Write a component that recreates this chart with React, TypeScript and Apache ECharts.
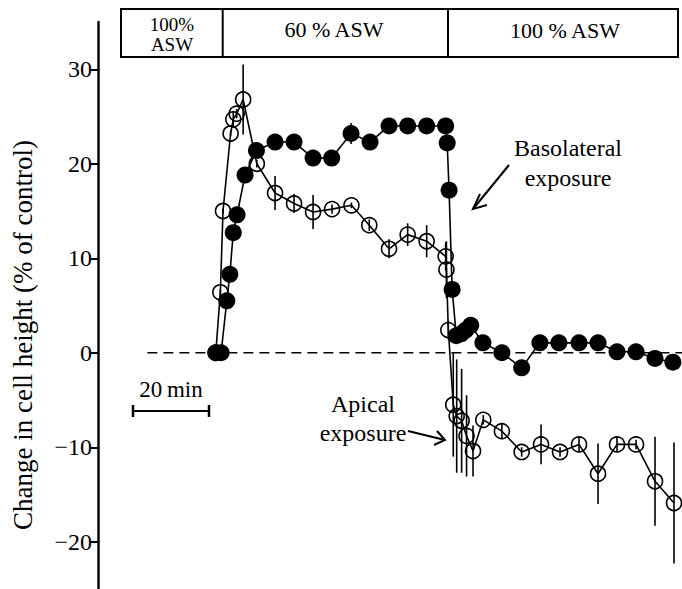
import React, { useEffect, useRef } from 'react';
import * as echarts from 'echarts';

// ---- data (time in minutes from the switch to 60 % ASW, value in % of control)
const yTicks = [-20, -10, 0, 10, 20, 30];

const basoTime = [-1.8, -0.4, 1.1, 1.9, 2.8, 3.8, 5.9, 8.9, 13.8, 18.8, 23.8, 28.7, 33.8, 38.8, 43.8, 48.7, 53.7, 58.7, 59.1, 59.6, 60.4, 61.5, 62.8, 64.0, 65.3, 68.5, 73.5, 78.7, 83.5, 88.5, 93.8, 98.8, 103.8, 108.8, 113.8, 118.5];
const basoValue = [0, 0, 5.5, 8.3, 12.7, 14.6, 18.8, 21.4, 22.3, 22.3, 20.6, 20.6, 23.2, 22.3, 24.0, 24.0, 24.0, 24.0, 22.2, 17.2, 6.7, 1.8, 2.0, 2.4, 2.9, 1.05, 0, -1.6, 1.05, 1.05, 1.05, 1.05, 0.1, 0.1, -0.6, -1.0];
const basoErr = [0, 0, 0, 0, 0, 0, 0.5, 0, 0, 0, 0, 0, 1.1, 0, 0, 0, 0, 0, 0, 0, 0, 0.7, 0.7, 0.7, 0.7, 0, 0, 0, 0, 0, 0, 0, 0, 0, 0, 0];

const apicalTime = [-1.8, -0.6, 0.1, 2.1, 2.8, 3.7, 5.4, 9.0, 13.8, 18.8, 23.8, 28.8, 33.9, 38.6, 43.8, 48.7, 53.7, 58.7, 58.9, 59.4, 60.7, 61.6, 62.9, 64.2, 65.9, 68.6, 73.5, 78.7, 83.8, 88.8, 93.8, 98.8, 103.8, 108.8, 113.8, 118.8];
const apicalValue = [0, 6.4, 15.0, 23.2, 24.7, 25.3, 26.8, 20.0, 16.9, 15.8, 14.9, 15.2, 15.6, 13.5, 11.0, 12.5, 11.8, 10.2, 8.8, 2.4, -5.5, -6.7, -7.2, -8.8, -10.4, -7.1, -8.3, -10.5, -9.7, -10.5, -9.7, -12.8, -9.7, -9.7, -13.6, -15.9];
const apicalErr = [0, 0.3, 0.3, 0.3, 0.9, 0.5, 3.7, 0.4, 1.8, 1.0, 1.8, 0.5, 0.3, 0.6, 1.0, 1.2, 1.7, 1.5, 3.0, 1.0, 5.5, 6.0, 5.5, 4.3, 2.7, 0.5, 0.8, 0.5, 2.1, 0.5, 0.8, 3.2, 0.8, 0.5, 4.7, 6.4];

const zeroLineStart = -19.8;
const xMin = -32.8;
const xMax = 120.9;

const FONT = 'Liberation Serif, Times New Roman, DejaVu Serif, serif';

function pairs(t: number[], v: number[]) {
  return t.map((x, i) => [x, v[i]]);
}
function errs(t: number[], v: number[], e: number[]) {
  return t
    .map((x, i) => [x, v[i] - e[i], v[i] + e[i]])
    .filter((d, i) => e[i] > 0);
}

const errRender = (params: any, api: any) => {
  const p1 = api.coord([api.value(0), api.value(1)]);
  const p2 = api.coord([api.value(0), api.value(2)]);
  return {
    type: 'line',
    shape: { x1: p1[0], y1: p1[1], x2: p2[0], y2: p2[1] },
    style: { stroke: '#000', lineWidth: 1.6 },
  };
};

function text(x: number, y: number, s: string, size: number, extra: any = {}) {
  return {
    type: 'text',
    x,
    y,
    style: {
      text: s,
      fontSize: size,
      fontFamily: FONT,
      fill: '#000',
      align: 'center',
      verticalAlign: 'middle',
    },
    ...extra,
  };
}
function seg(x1: number, y1: number, x2: number, y2: number, w = 2) {
  return {
    type: 'line',
    shape: { x1, y1, x2, y2 },
    style: { stroke: '#000', lineWidth: w },
  };
}

export default function App() {
  const ref = useRef<HTMLDivElement>(null);
  useEffect(() => {
    if (!ref.current) return;
    const chart = echarts.init(ref.current, null, { renderer: 'svg' });
    chart.setOption({
      animation: false,
      backgroundColor: '#fff',
      textStyle: { fontFamily: FONT },
      grid: { left: 98, right: 0, top: 22, bottom: 0, containLabel: false },
      xAxis: {
        type: 'value',
        min: xMin,
        max: xMax,
        show: false,
      },
      yAxis: {
        type: 'value',
        min: -25,
        max: 35,
        axisLine: { show: true, onZero: false, lineStyle: { color: '#000', width: 2.5 } },
        axisTick: {
          show: true,
          length: 7,
          lineStyle: { color: '#000', width: 2 },
          customValues: yTicks,
        },
        axisLabel: {
          show: true,
          customValues: yTicks,
          color: '#000',
          fontSize: 24,
          fontFamily: FONT,
          margin: 6,
          formatter: (v: number) => (v < 0 ? '\u2212' + Math.abs(v) : String(v)),
        },
        splitLine: { show: false },
      },
      series: [
        {
          type: 'line',
          data: [[zeroLineStart, 0], [xMax, 0]],
          symbol: 'none',
          silent: true,
          lineStyle: { color: '#000', width: 1.5, type: [10, 6] },
          z: 1,
        },
        {
          type: 'line',
          name: 'Apical exposure',
          data: pairs(apicalTime, apicalValue),
          symbol: 'circle',
          symbolSize: 15,
          clip: false,
          itemStyle: { color: 'rgba(0,0,0,0)', borderColor: '#000', borderWidth: 1.6 },
          lineStyle: { color: '#000', width: 1.6 },
          z: 2,
        },
        {
          type: 'line',
          name: 'Basolateral exposure',
          data: pairs(basoTime, basoValue),
          symbol: 'circle',
          symbolSize: 17,
          clip: false,
          itemStyle: { color: '#000', borderColor: '#000', borderWidth: 0 },
          lineStyle: { color: '#000', width: 1.6 },
          z: 3,
        },
        {
          type: 'custom',
          data: errs(apicalTime, apicalValue, apicalErr),
          encode: { x: 0, y: [1, 2] },
          renderItem: errRender,
          clip: false,
          z: 4,
        },
        {
          type: 'custom',
          data: errs(basoTime, basoValue, basoErr),
          encode: { x: 0, y: [1, 2] },
          renderItem: errRender,
          clip: false,
          z: 4,
        },
      ],
      graphic: [
        // solution header
        {
          type: 'rect',
          shape: { x: 121, y: 9, width: 557, height: 48 },
          style: { fill: 'none', stroke: '#000', lineWidth: 2 },
        },
        seg(222.7, 9, 222.7, 57),
        seg(448, 9, 448, 57),
        text(172, 24.5, '100%', 19),
        text(172, 44, 'ASW', 19),
        text(334, 29.5, '60 % ASW', 22),
        text(565, 30, '100 % ASW', 22),
        // y-axis title
        text(23, 335, 'Change in cell height (% of control)', 27, { rotation: Math.PI / 2 }),
        // scale bar
        seg(133, 411, 209, 411, 2),
        seg(133, 405, 133, 417, 2.5),
        seg(209, 405, 209, 417, 2.5),
        text(171, 389.5, '20\u2009min', 23),
        // annotations
        text(568, 148, 'Basolateral', 24),
        text(568, 178, 'exposure', 24),
        seg(509, 165, 473, 209, 2),
        {
          type: 'polyline',
          shape: { points: [[480, 194], [473, 209], [487, 205]] },
          style: { stroke: '#000', lineWidth: 2, fill: 'none' },
        },
        text(363, 403.5, 'Apical', 24),
        text(363, 433, 'exposure', 24),
        seg(408, 431, 445, 440, 2),
        {
          type: 'polyline',
          shape: { points: [[437, 431], [445, 440], [434, 445]] },
          style: { stroke: '#000', lineWidth: 2, fill: 'none' },
        },
      ],
    });
    return () => chart.dispose();
  }, []);
  return (
    <div
      ref={ref}
      style={{ position: 'fixed', left: 0, top: 0, width: 682, height: 589, background: '#fff' }}
    />
  );
}
